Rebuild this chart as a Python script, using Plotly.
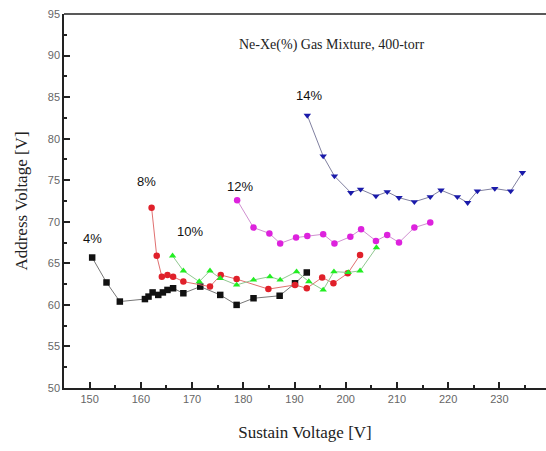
import plotly.graph_objects as go

# ---- data ----
x4 = [150.5, 153.3, 155.9, 160.8, 161.5, 162.3, 163.4, 164.3, 165.2, 166.3, 168.3, 171.6, 175.5, 178.7, 182.0, 187.1, 190.1, 192.4]
y4 = [65.7, 62.7, 60.4, 60.7, 61.0, 61.5, 61.2, 61.5, 61.8, 62.0, 61.4, 62.2, 61.2, 60.0, 60.8, 61.1, 62.6, 63.9]

x8 = [162.1, 163.1, 164.1, 165.2, 166.3, 168.3, 173.5, 175.6, 178.7, 184.9, 190.1, 192.4, 195.4, 197.6, 200.4, 202.8]
y8 = [71.7, 65.9, 63.4, 63.6, 63.4, 62.8, 62.2, 63.6, 63.1, 61.9, 62.4, 62.0, 63.3, 62.6, 63.8, 66.0]

x10 = [166.2, 168.3, 171.4, 173.5, 175.5, 178.7, 182.0, 185.2, 187.2, 190.4, 192.8, 195.6, 197.7, 200.5, 202.8, 206.0]
y10 = [65.9, 64.1, 62.8, 64.1, 63.2, 62.4, 63.0, 63.4, 63.0, 64.0, 62.8, 61.8, 64.0, 63.9, 64.1, 66.9]

x12 = [178.8, 182.0, 185.1, 187.2, 190.3, 192.5, 195.6, 197.8, 200.9, 203.0, 205.9, 208.1, 210.4, 213.4, 216.5]
y12 = [72.6, 69.3, 68.6, 67.4, 68.1, 68.3, 68.5, 67.4, 68.2, 69.1, 67.7, 68.4, 67.5, 69.3, 69.9]

x14 = [192.5, 195.6, 197.8, 201.0, 202.9, 205.9, 208.1, 210.4, 213.4, 216.5, 218.6, 221.8, 223.8, 225.7, 229.1, 232.2, 234.5]
y14 = [82.8, 77.9, 75.5, 73.5, 73.9, 73.1, 73.6, 72.9, 72.4, 73.0, 73.8, 73.0, 72.3, 73.7, 74.0, 73.7, 75.9]

series_labels = ["4%", "8%", "10%", "12%", "14%"]
label_x = [150.6, 161.2, 169.6, 179.4, 192.9]
label_y = [68.0, 74.9, 68.8, 74.3, 85.2]

title_text = "Ne-Xe(%) Gas Mixture, 400-torr"
x_title = "Sustain Voltage [V]"
y_title = "Address Voltage [V]"

fig = go.Figure()

specs = [
    (x4, y4, "#111111", "square", "#777777"),
    (x8, y8, "#e0202a", "circle", "#e07070"),
    (x10, y10, "#22ee22", "triangle-up", "#90c890"),
    (x12, y12, "#dd22dd", "circle", "#d090d0"),
    (x14, y14, "#1a1aaa", "triangle-down", "#8080a0"),
]
for (xs, ys, col, sym, lcol) in specs:
    fig.add_trace(go.Scatter(
        x=xs, y=ys, mode="lines+markers",
        line=dict(color=lcol, width=1),
        marker=dict(color=col, symbol=sym, size=6.5, line=dict(width=0)),
        showlegend=False,
    ))

for t, lx, ly in zip(series_labels, label_x, label_y):
    fig.add_annotation(x=lx, y=ly, text=t, showarrow=False,
                       font=dict(family="Liberation Sans, Arial", size=13, color="#111"))

fig.add_annotation(x=0.75, y=0.945, xref="paper", yref="paper", text=title_text,
                   showarrow=False,
                   font=dict(family="Liberation Serif, Times New Roman", size=14, color="#222"))

# top frame line (right side is cut off in the reference)
fig.add_shape(type="line", xref="paper", yref="paper", x0=0, x1=1, y0=1, y1=1,
              line=dict(color="#222", width=1.5))

fig.update_layout(
    width=546, height=451,
    margin=dict(l=64, r=0, t=14, b=63),
    paper_bgcolor="white", plot_bgcolor="white",
    xaxis=dict(
        range=[145, 239.1], dtick=10, tick0=150,
        showgrid=False, zeroline=False,
        showline=True, linecolor="#222", linewidth=1.5,
        ticks="inside", ticklen=6, tickwidth=1.5, tickcolor="#222",
        minor=dict(ticks="inside", dtick=5, tick0=145, ticklen=3, tickcolor="#222"),
        tickfont=dict(family="Liberation Sans, Arial", size=11, color="#666"),
        title=dict(text=x_title, standoff=22,
                   font=dict(family="Liberation Serif, Times New Roman", size=17, color="#222")),
    ),
    yaxis=dict(
        range=[50, 95], dtick=5, tick0=50,
        showgrid=False, zeroline=False,
        showline=True, linecolor="#222", linewidth=1.5,
        ticks="inside", ticklen=6, tickwidth=1.5, tickcolor="#222",
        minor=dict(ticks="inside", dtick=2.5, ticklen=3, tickcolor="#222"),
        tickfont=dict(family="Liberation Sans, Arial", size=11, color="#666"),
        title=dict(text=y_title, standoff=16,
                   font=dict(family="Liberation Serif, Times New Roman", size=17, color="#222")),
    ),
)

fig.write_html("out.html")
